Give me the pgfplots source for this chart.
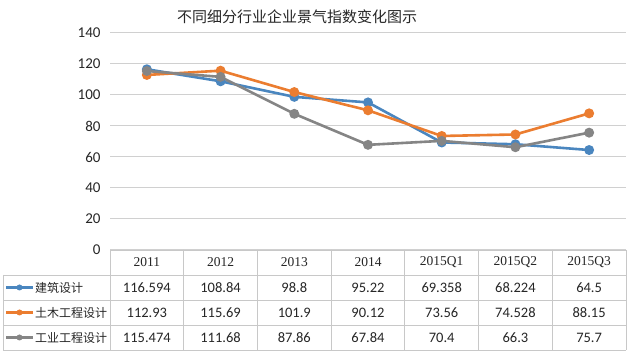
\documentclass[border=0pt]{standalone}
\usepackage{fontspec}
\usepackage{pgfplots}
\pgfplotsset{compat=1.18}
\setmainfont{Carlito}
\newfontfamily\cjk{Noto Sans CJK SC}
\newfontfamily\serifnum{Liberation Serif}
\definecolor{cblue}{HTML}{4A86BF}
\definecolor{corange}{HTML}{EB7D30}
\definecolor{cgray}{HTML}{858585}
\definecolor{gridc}{HTML}{D0D0D0}
\definecolor{tabc}{HTML}{C8C8C8}
\begin{document}
\begin{tikzpicture}[x=1pt,y=1pt]
\fill[white] (0,0) rectangle (634,355);
\useasboundingbox (0,0) rectangle (634,355);
\begin{axis}[at={(110pt,105pt)}, anchor=south west, scale only axis,
  width=516pt, height=217pt, xmin=-0.5, xmax=6.5, ymin=0, ymax=140,
  ytick={0,20,...,140}, xtick=\empty, ymajorgrids,
  grid style={gridc, line width=1pt}, axis line style={draw=none},
  major tick length=0pt,
  yticklabel style={font=\fontsize{15}{15}\selectfont, color=black!85, xshift=-6pt},
  /pgf/number format/assume math mode=true, clip=false,
  every axis plot/.append style={line width=2.6pt, mark=*, mark size=3.6pt}]
\addplot[cblue, mark options={fill=cblue}] coordinates {(0,116.594)(1,108.84)(2,98.8)(3,95.22)(4,69.358)(5,68.224)(6,64.5)};
\addplot[corange, mark options={fill=corange}] coordinates {(0,112.93)(1,115.69)(2,101.9)(3,90.12)(4,73.56)(5,74.528)(6,88.15)};
\addplot[cgray, mark options={fill=cgray}] coordinates {(0,115.474)(1,111.68)(2,87.86)(3,67.84)(4,70.4)(5,66.3)(6,75.7)};
\end{axis}
\node[font=\cjk\fontsize{15}{15}\selectfont, text=black!85] at (297,338) {不同细分行业企业景气指数变化图示};
% table
\def\cw{73.714}
\draw[tabc, line width=0.8pt] (110,105) -- (626,105);
\foreach \yy in {80,55,30,5} {\draw[tabc, line width=0.8pt] (3,\yy) -- (626,\yy);}
\draw[tabc, line width=0.8pt] (3,80) -- (3,5);
\foreach \k in {0,...,7} {\draw[tabc, line width=0.8pt] (110+\k*\cw,105) -- (110+\k*\cw,5);}
\foreach \lab [count=\i from 0] in {2011,2012,2013,2014,2015Q1,2015Q2,2015Q3}
  {\node[font=\serifnum\fontsize{13.5}{13.5}\selectfont, text=black!85] at (110+\cw/2+\i*\cw,92.5) {\lab};}
\foreach \v [count=\i from 0] in {116.594,108.84,98.8,95.22,69.358,68.224,64.5}
  {\node[font=\fontsize{14.5}{14.5}\selectfont, text=black!85] at (110+\cw/2+\i*\cw,67.5) {\v};}
\foreach \v [count=\i from 0] in {112.93,115.69,101.9,90.12,73.56,74.528,88.15}
  {\node[font=\fontsize{14.5}{14.5}\selectfont, text=black!85] at (110+\cw/2+\i*\cw,42.5) {\v};}
\foreach \v [count=\i from 0] in {115.474,111.68,87.86,67.84,70.4,66.3,75.7}
  {\node[font=\fontsize{14.5}{14.5}\selectfont, text=black!85] at (110+\cw/2+\i*\cw,17.5) {\v};}
% legend keys
\foreach \c/\yy/\lab in {cblue/67.5/建筑设计, corange/42.5/土木工程设计, cgray/17.5/工业工程设计} {
  \draw[\c, line width=2.2pt] (6,\yy) -- (33,\yy);
  \fill[\c] (19.5,\yy) circle (3pt);
  \node[anchor=west, font=\cjk\fontsize{12}{12}\selectfont, text=black!85, inner sep=0pt] at (35,\yy) {\lab};
}
\end{tikzpicture}
\end{document}
